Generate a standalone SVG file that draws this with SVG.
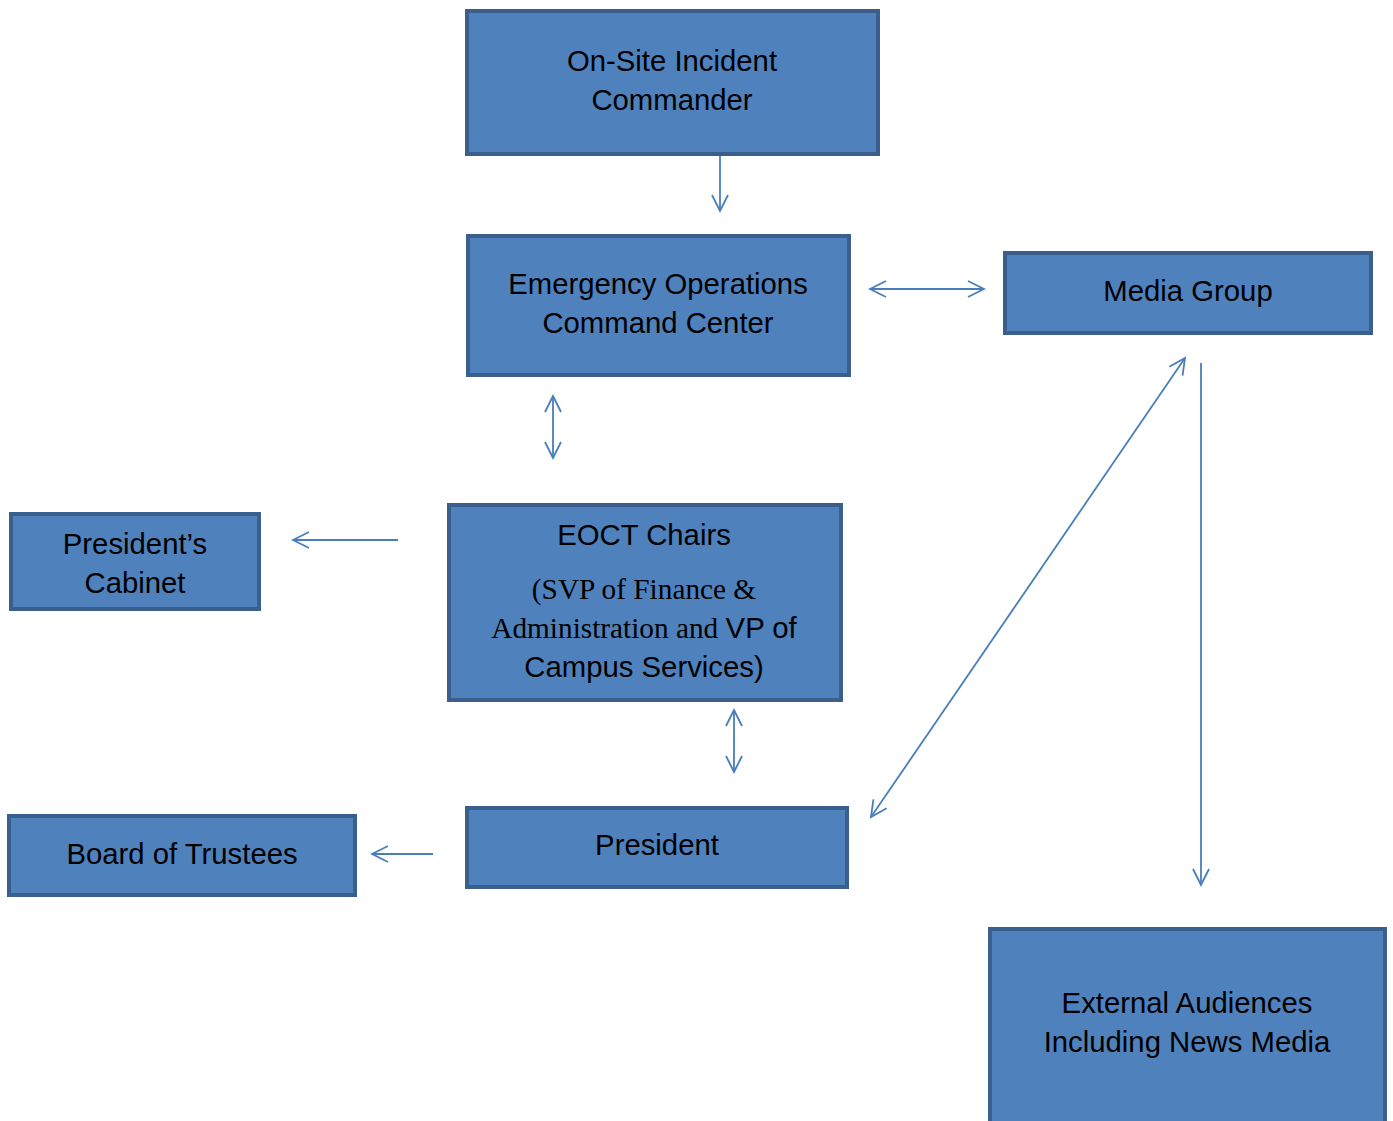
<svg xmlns="http://www.w3.org/2000/svg" width="1393" height="1121" viewBox="0 0 1393 1121">
<style>
.box{fill:#4F81BD;stroke:#3A5F8C;stroke-width:4}
.t{font-family:"Liberation Sans",Arial,sans-serif;font-size:29.3px;fill:#000;text-anchor:middle}
.s{font-family:"Liberation Serif","Times New Roman",serif}
.c{fill:none;stroke:#4A7EBB;stroke-width:1.8}
</style>
<defs>
<marker id="ah" viewBox="0 0 20 20" refX="18" refY="10" markerWidth="20" markerHeight="20" markerUnits="userSpaceOnUse" orient="auto-start-reverse">
<path d="M2,2 L18,10 L2,18" fill="none" stroke="#4A7EBB" stroke-width="1.8"/>
</marker>
</defs>
<g id="connectors">
<line class="c" x1="720" y1="153" x2="720" y2="211" marker-end="url(#ah)"/>
<line class="c" x1="870" y1="289" x2="984" y2="289" marker-start="url(#ah)" marker-end="url(#ah)"/>
<line class="c" x1="553" y1="396" x2="553" y2="458" marker-start="url(#ah)" marker-end="url(#ah)"/>
<line class="c" x1="398" y1="540" x2="293" y2="540" marker-end="url(#ah)"/>
<line class="c" x1="734" y1="710" x2="734" y2="772" marker-start="url(#ah)" marker-end="url(#ah)"/>
<line class="c" x1="433" y1="854" x2="372" y2="854" marker-end="url(#ah)"/>
<line class="c" x1="1185" y1="358" x2="871" y2="817" marker-start="url(#ah)" marker-end="url(#ah)"/>
<line class="c" x1="1201" y1="363" x2="1201" y2="885" marker-end="url(#ah)"/>
</g>
<g id="onsite">
<rect class="box" x="467" y="11" width="411" height="143"/>
<text class="t" x="672" y="71">On-Site Incident</text>
<text class="t" x="672" y="110">Commander</text>
</g>
<g id="eocc">
<rect class="box" x="468" y="236" width="381" height="139"/>
<text class="t" x="658" y="294">Emergency Operations</text>
<text class="t" x="658" y="333">Command Center</text>
</g>
<g id="media">
<rect class="box" x="1005" y="253" width="366" height="80"/>
<text class="t" x="1188" y="301">Media Group</text>
</g>
<g id="cabinet">
<rect class="box" x="11" y="514" width="248" height="95"/>
<text class="t" x="135" y="554">President’s</text>
<text class="t" x="135" y="593">Cabinet</text>
</g>
<g id="eoct">
<rect class="box" x="449" y="505" width="392" height="195"/>
<text class="t" x="644" y="545">EOCT Chairs</text>
<text class="t s" x="644" y="599">(SVP of Finance &amp;</text>
<text class="t" x="644" y="638"><tspan class="s">Administration and </tspan>VP of</text>
<text class="t" x="644" y="677">Campus Services)</text>
</g>
<g id="board">
<rect class="box" x="9" y="816" width="346" height="79"/>
<text class="t" x="182" y="864">Board of Trustees</text>
</g>
<g id="president">
<rect class="box" x="467" y="808" width="380" height="79"/>
<text class="t" x="657" y="855">President</text>
</g>
<g id="external">
<rect class="box" x="990" y="929" width="395" height="196"/>
<text class="t" x="1187" y="1013">External Audiences</text>
<text class="t" x="1187" y="1052">Including News Media</text>
</g>
</svg>
